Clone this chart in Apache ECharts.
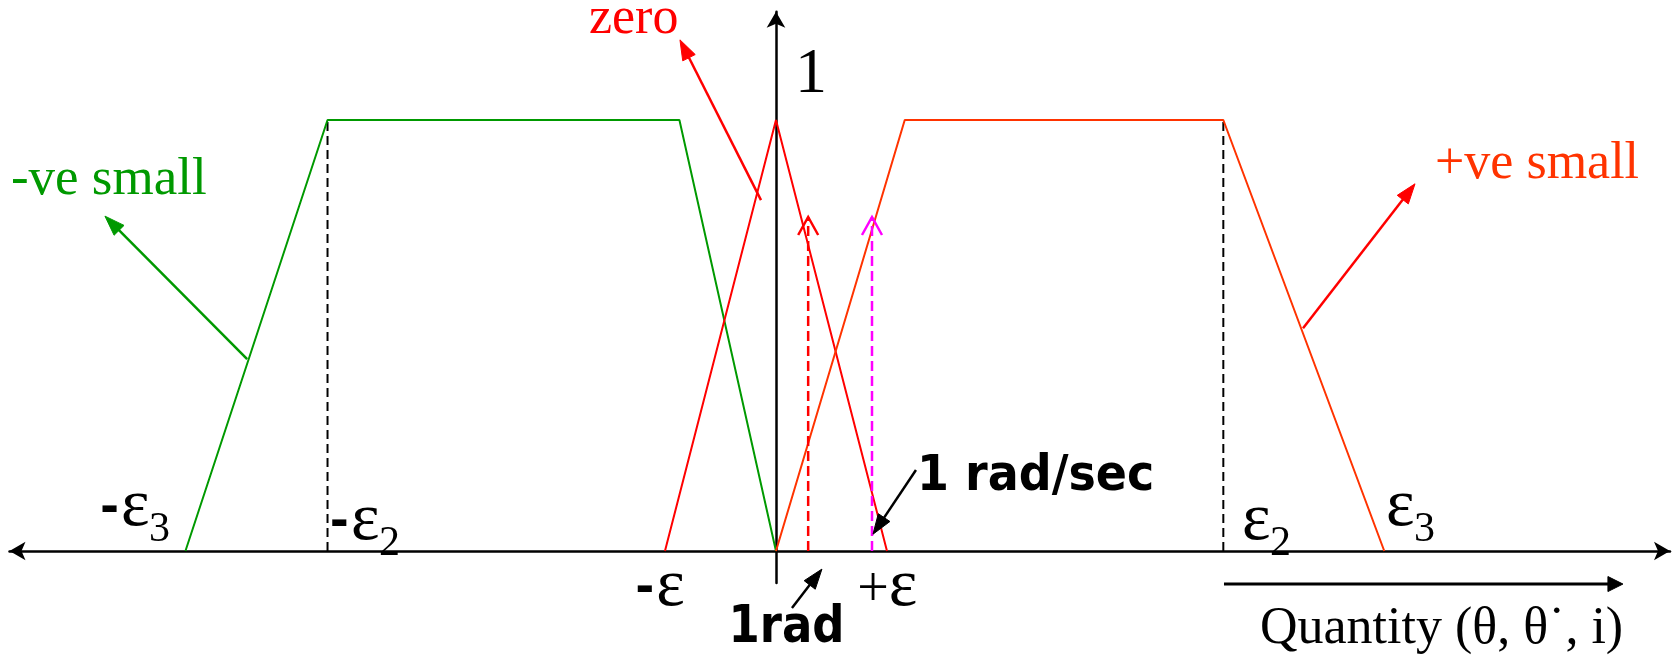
<!DOCTYPE html>
<html>
<head>
<meta charset="utf-8">
<title>Fuzzy membership functions</title>
<script src="https://cdn.jsdelivr.net/npm/echarts@6/dist/echarts.min.js"></script>
<style>
  html, body { margin: 0; padding: 0; background: #ffffff; }
  #chart { width: 1674px; height: 656px; }
</style>
</head>
<body>
<div id="chart"></div>
<script>
// Membership functions along the quantity axis (x in units of ε, y = degree of membership)
const negSmallX = [-5.32, -4.04, -0.87, 0];
const negSmallY = [0, 1, 1, 0];
const zeroX = [-1, 0, 1];
const zeroY = [0, 1, 0];
const posSmallX = [0, 1.16, 4.03, 5.48];
const posSmallY = [0, 1, 1, 0];

// Dashed guides dropped from the plateau corners at -ε2 and ε2
const guideX = [-4.04, 4.03];
const guideTop = [1, 1];

// Dashed input arrows: 1 rad (red) and 1 rad/sec (magenta)
const inputX = [0.29, 0.865];
const inputTop = [0.775, 0.775];

// Pointer arrows, tail -> head
const arrowTailX = [-0.135, -4.764, 4.748, 1.261, 0.144, 4.036];
const arrowTailY = [0.814, 0.445, 0.517, 0.188, -0.132, -0.0766];
const arrowHeadX = [-0.865, -6.045, 5.757, 0.874, 0.414, 7.63];
const arrowHeadY = [1.186, 0.777, 0.852, 0.039, -0.042, -0.0766];

// ε labels on the quantity axis (sign, subscript, baseline start)
const epsSign = ['-', '-', '-', '+', '', ''];
const epsSub = ['3', '2', '', '', '2', '3'];
const epsX = [-5.9, -3.829, -1.078, 1.017, 4.198, 5.495];
const epsY = [0.0487, 0.0162, -0.137, -0.137, 0.0162, 0.0487];

// Free text (baseline start)
const noteText = ['zero', '1', '-ve small', '+ve small', '1 rad/sec', '1rad', 'Quantity (θ, θ˙, i)'];
const noteX = [-1.685, 0.171, -6.892, 5.937, 1.27, -0.428, 4.36];
const noteY = [1.1926, 1.0534, 0.819, 0.856, 0.1322, -0.221, -0.2227];

// ---- look ----
const RED = '#ff0000', ORANGE = '#ff3300', GREEN = '#009900', MAGENTA = '#ff00ff', BLACK = '#000000';
const SERIF = '"Liberation Serif", "Times New Roman", serif';
const SANS = '"DejaVu Sans", Verdana, sans-serif';

const X_MIN = -6.905, X_MAX = 8.054;
const Y_MIN = -0.0742, Y_MAX = 1.2513;

const noteLook = [
  { color: RED, family: SERIF, size: 52 },
  { color: BLACK, family: SERIF, size: 64 },
  { color: GREEN, family: SERIF, size: 53 },
  { color: ORANGE, family: SERIF, size: 52 },
  { color: BLACK, family: SANS, size: 46, weight: 'bold', sy: 1.07 },
  { color: BLACK, family: SANS, size: 45, weight: 'bold', sy: 1.15 },
  { color: BLACK, family: SERIF, size: 52 }
];
const epsLook = { color: BLACK, family: SERIF, size: 68 };
const subLook = { color: BLACK, family: SERIF, size: 42 };
const plusLook = { color: BLACK, family: SERIF, size: 56 };
const dashLook = { color: BLACK, family: SANS, size: 46, weight: 'bold' };

const arrowLook = [
  { color: RED, width: 2.5, head: 20, half: 7 },
  { color: GREEN, width: 2.5, head: 20, half: 7 },
  { color: RED, width: 2.5, head: 20, half: 7 },
  { color: BLACK, width: 2.5, head: 20, half: 7 },
  { color: BLACK, width: 2.5, head: 20, half: 7 },
  { color: BLACK, width: 3, head: 15, half: 7.5 }
];
const inputLook = [
  { color: RED, width: 2.5, dash: [10, 5], head: 18, half: 10, open: true },
  { color: MAGENTA, width: 2.5, dash: [10, 5], head: 18, half: 10, open: true }
];

function textEl(x, y, text, look, align) {
  const fs = look.size;
  const weight = look.weight || 'normal';
  return {
    type: 'text',
    x: x, y: y,
    scaleX: look.sx || 1,
    scaleY: look.sy || 1,
    style: {
      text: text,
      x: 0, y: -0.34 * fs,
      fill: look.color,
      font: weight + ' ' + fs + 'px ' + look.family,
      fontSize: fs, fontFamily: look.family, fontWeight: weight,
      align: align || 'left', verticalAlign: 'middle',
      textAlign: align || 'left', textVerticalAlign: 'middle'
    }
  };
}

function arrowEl(a, b, st) {
  const dx = b[0] - a[0], dy = b[1] - a[1];
  const len = Math.hypot(dx, dy);
  const ux = dx / len, uy = dy / len;
  const nx = -uy, ny = ux;
  const base = [b[0] - ux * st.head, b[1] - uy * st.head];
  const left = [base[0] + nx * st.half, base[1] + ny * st.half];
  const right = [base[0] - nx * st.half, base[1] - ny * st.half];
  const shaftEnd = st.open ? b : [base[0] + ux * 3, base[1] + uy * 3];
  const kids = [{
    type: 'line',
    shape: { x1: a[0], y1: a[1], x2: shaftEnd[0], y2: shaftEnd[1] },
    style: { stroke: st.color, lineWidth: st.width, lineDash: st.dash || null, fill: null }
  }];
  if (st.open) {
    kids.push({ type: 'polyline', shape: { points: [left, b, right] },
      style: { stroke: st.color, lineWidth: st.width, fill: null } });
  } else {
    kids.push({ type: 'polygon', shape: { points: [b, left, right] },
      style: { fill: st.color, stroke: st.color, lineWidth: 1 } });
  }
  return { type: 'group', children: kids };
}

const zip = (xs, ys) => xs.map((x, i) => [x, ys[i]]);

const chart = echarts.init(document.getElementById('chart'), null, { renderer: 'canvas' });

const series = [
  { type: 'line', data: zip(negSmallX, negSmallY), symbol: 'none', lineStyle: { color: GREEN, width: 2 }, z: 3 },
  { type: 'line', data: zip(zeroX, zeroY), symbol: 'none', lineStyle: { color: RED, width: 2 }, z: 3 },
  { type: 'line', data: zip(posSmallX, posSmallY), symbol: 'none', lineStyle: { color: ORANGE, width: 2 }, z: 3 }
];
guideX.forEach((gx, i) => {
  series.push({ type: 'line', data: [[gx, 0], [gx, guideTop[i]]], symbol: 'none',
    lineStyle: { color: BLACK, width: 2, type: [9, 5] }, z: 2 });
});
series.push({
  type: 'custom',
  data: inputX.map((x, i) => [x, inputTop[i], i]),
  renderItem: (params, api) => {
    const i = api.value(2);
    const x = api.value(0);
    return arrowEl(api.coord([x, 0]), api.coord([x, api.value(1)]), inputLook[i]);
  },
  z: 4
});
series.push({
  type: 'custom',
  data: arrowTailX.map((x, i) => [x, arrowTailY[i], arrowHeadX[i], arrowHeadY[i], i]),
  renderItem: (params, api) => {
    const i = api.value(4);
    return arrowEl(api.coord([api.value(0), api.value(1)]), api.coord([api.value(2), api.value(3)]), arrowLook[i]);
  },
  z: 5
});
series.push({
  type: 'custom',
  data: epsX.map((x, i) => [x, epsY[i], i]),
  renderItem: (params, api) => {
    const i = api.value(2);
    const p = api.coord([api.value(0), api.value(1)]);
    const kids = [textEl(p[0], p[1], 'ε', epsLook)];
    if (epsSign[i] === '-') kids.push(textEl(p[0] - 2, p[1] - 4, '-', dashLook, 'right'));
    if (epsSign[i] === '+') kids.push(textEl(p[0], p[1], '+', plusLook, 'right'));
    if (epsSub[i]) kids.push(textEl(p[0] + 28, p[1] + 14, epsSub[i], subLook));
    return { type: 'group', children: kids };
  },
  z: 6
});
series.push({
  type: 'custom',
  data: noteX.map((x, i) => [x, noteY[i], i]),
  renderItem: (params, api) => {
    const i = api.value(2);
    const p = api.coord([api.value(0), api.value(1)]);
    return textEl(p[0], p[1], noteText[i], noteLook[i]);
  },
  z: 6
});

chart.setOption({
  animation: false,
  backgroundColor: '#ffffff',
  grid: { left: 9.5, right: 4, top: 11.7, bottom: 73 },
  xAxis: {
    type: 'value', min: X_MIN, max: X_MAX,
    axisLine: { onZero: true, symbol: ['arrow', 'arrow'], symbolSize: [14, 16],
      lineStyle: { color: BLACK, width: 2.5 } },
    axisTick: { show: false }, axisLabel: { show: false }, splitLine: { show: false }
  },
  yAxis: {
    type: 'value', min: Y_MIN, max: Y_MAX,
    axisLine: { onZero: true, symbol: ['none', 'arrow'], symbolSize: [14, 16],
      lineStyle: { color: BLACK, width: 2.5 } },
    axisTick: { show: false }, axisLabel: { show: false }, splitLine: { show: false }
  },
  series: series
});
</script>
</body>
</html>
